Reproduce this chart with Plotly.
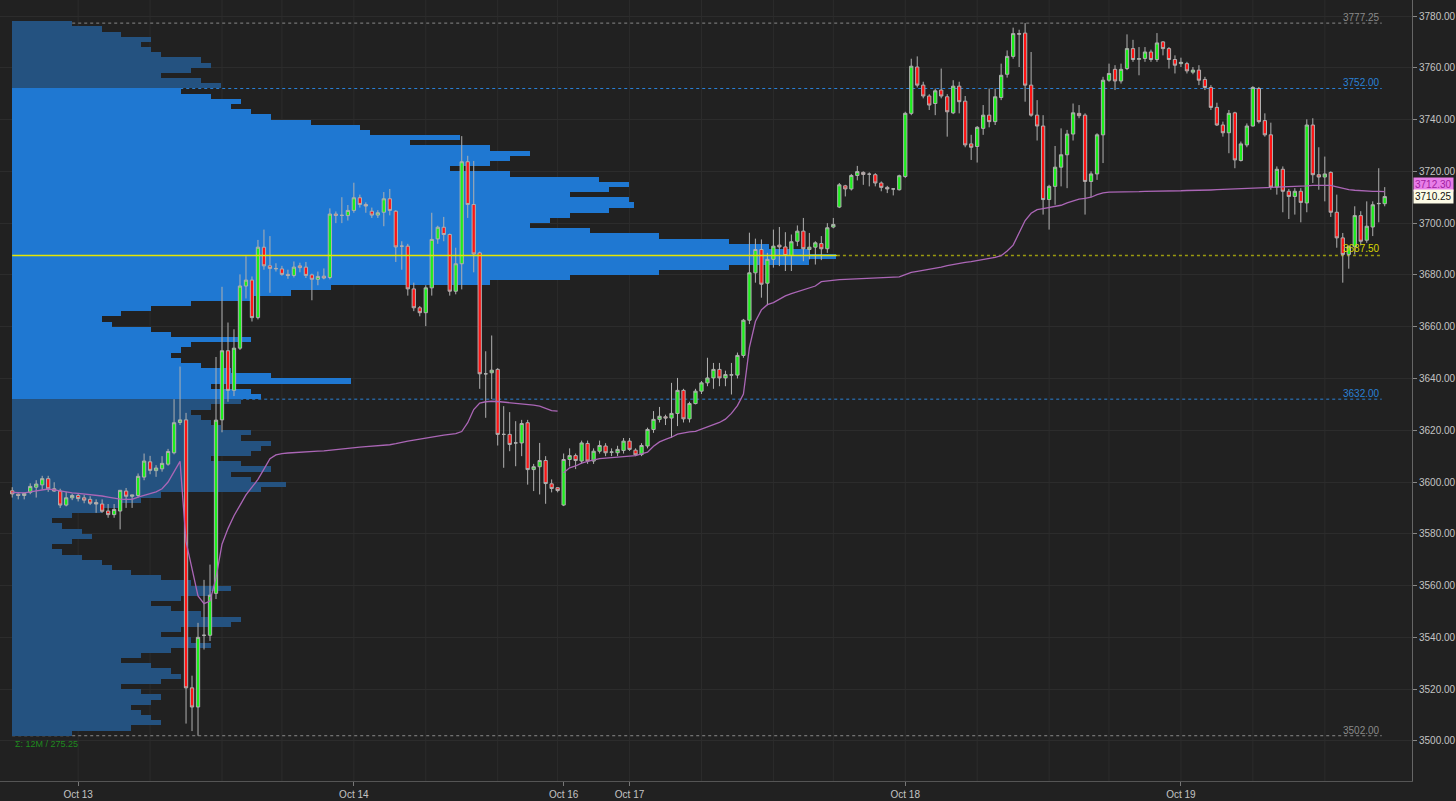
import plotly.graph_objects as go

# ---------------- data (30-min bars, ES futures) ----------------
opens = [
    3596.6,3595.3,3594.8,3596.0,3598.0,3598.9,3601.3,3597.4,3596.5,3591.1,
    3593.9,3594.8,3593.9,3593.3,3592.1,3591.5,3588.8,3587.4,3588.8,3596.5,
    3594.5,3594.8,3601.9,3607.8,3604.4,3605.1,3606.9,3611.3,3623.0,3624.0,
    3520.5,3513.1,3540.8,3540.8,3557.0,3624.0,3650.7,3635.4,3651.7,3675.7,
    3678.0,3663.5,3690.7,3683.5,3682.5,3682.3,3680.2,3679.8,3683.5,3683.0,
    3680.0,3678.3,3679.5,3679.0,3703.5,3703.0,3702.9,3704.9,3709.8,3707.2,
    3704.6,3703.1,3704.2,3709.4,3704.6,3691.1,3691.1,3674.6,3667.3,3665.4,
    3675.0,3693.9,3698.4,3695.6,3673.7,3684.3,3723.7,3707.2,3688.5,3641.8,
    3642.2,3643.5,3618.4,3618.4,3615.1,3615.1,3622.9,3604.8,3605.9,3608.3,
    3599.3,3597.8,3591.1,3608.7,3610.2,3608.1,3614.9,3608.1,3611.9,3613.9,
    3611.5,3611.3,3612.2,3615.8,3612.3,3610.6,3613.9,3620.3,3624.2,3625.2,
    3624.7,3626.5,3635.4,3624.4,3630.3,3635.1,3638.3,3640.2,3643.5,3640.2,
    3641.3,3641.3,3648.9,3662.5,3680.8,3689.8,3676.8,3686.0,3691.5,3690.8,
    3687.5,3693.0,3696.9,3689.8,3690.7,3692.1,3690.1,3698.5,3706.2,3714.4,
    3713.2,3718.4,3719.6,3718.9,3718.7,3715.5,3713.8,3713.2,3712.9,3718.0,
    3742.4,3760.3,3753.3,3749.1,3746.2,3751.4,3748.8,3742.6,3752.9,3747.1,
    3730.6,3729.6,3736.6,3741.7,3739.2,3748.5,3757.5,3764.4,3773.2,3773.4,
    3753.3,3741.7,3737.5,3709.1,3714.2,3721.6,3726.4,3734.4,3742.4,3741.7,
    3716.1,3719.0,3734.1,3755.2,3759.4,3754.9,3759.7,3767.4,3763.3,3763.6,
    3766.1,3763.2,3770.0,3767.4,3763.2,3761.6,3761.6,3758.3,3759.1,3755.5,
    3752.4,3744.7,3737.9,3734.9,3742.6,3724.2,3730.2,3737.5,3752.0,3739.6,
    3734.1,3713.9,3720.8,3712.3,3710.3,3712.3,3707.8,3737.9,3718.7,3717.8,
    3719.6,3704.2,3694.3,3687.9,3690.9,3702.9,3693.4,3698.5,3707.5,3707.5,
]
highs = [
    3598.0,3595.6,3596.0,3599.5,3600.7,3602.4,3602.4,3599.9,3597.4,3596.2,
    3595.5,3595.5,3595.0,3594.5,3593.3,3593.3,3591.5,3591.5,3596.9,3597.7,
    3595.0,3603.3,3611.0,3610.1,3606.5,3610.0,3612.8,3632.0,3644.6,3626.7,
    3525.2,3545.6,3562.2,3568.1,3648.3,3675.4,3661.6,3659.0,3680.2,3687.2,
    3679.4,3693.5,3697.5,3695.0,3684.5,3683.5,3682.0,3685.2,3684.7,3685.0,
    3680.5,3681.3,3682.5,3705.7,3704.5,3710.0,3707.0,3715.6,3711.0,3708.0,
    3706.0,3705.0,3712.0,3713.2,3705.0,3693.0,3692.0,3677.0,3668.0,3676.0,
    3704.0,3699.0,3702.4,3696.0,3690.5,3733.6,3726.0,3724.0,3689.0,3650.5,
    3656.6,3644.0,3629.3,3627.0,3623.5,3624.0,3624.0,3607.0,3615.1,3610.0,
    3601.0,3598.0,3611.0,3613.0,3611.0,3616.0,3616.0,3613.0,3616.0,3615.0,
    3613.0,3614.0,3617.0,3617.0,3613.0,3615.0,3621.0,3627.4,3629.0,3626.0,
    3638.3,3640.2,3636.0,3631.0,3636.0,3639.0,3648.0,3646.0,3646.0,3643.0,
    3646.0,3650.0,3663.0,3696.3,3694.0,3693.7,3688.5,3697.5,3698.5,3696.5,
    3695.6,3699.1,3702.0,3696.2,3693.0,3695.0,3700.0,3702.0,3715.5,3714.8,
    3719.0,3722.1,3720.0,3719.6,3719.3,3716.1,3714.4,3713.5,3718.7,3743.0,
    3763.5,3764.4,3754.6,3749.8,3752.0,3759.7,3749.8,3755.2,3754.6,3749.1,
    3734.1,3737.5,3745.6,3752.0,3752.0,3761.6,3766.7,3775.5,3774.7,3777.25,
    3766.1,3747.5,3741.7,3714.8,3729.8,3736.6,3736.0,3746.2,3745.6,3742.4,
    3720.0,3734.7,3756.5,3761.6,3761.0,3761.6,3772.9,3770.8,3768.0,3768.0,
    3767.0,3773.4,3770.3,3768.0,3764.8,3763.9,3762.3,3760.3,3761.0,3756.5,
    3753.3,3746.5,3739.2,3743.7,3743.0,3731.5,3738.5,3752.9,3752.6,3742.4,
    3738.8,3721.9,3721.9,3713.2,3713.5,3713.5,3740.1,3740.5,3729.3,3725.7,
    3720.0,3711.0,3696.2,3691.4,3706.5,3704.6,3708.4,3708.4,3721.2,3713.9,
]
lows = [
    3594.0,3593.3,3593.3,3595.3,3594.0,3597.0,3596.2,3596.2,3590.0,3590.6,
    3593.0,3592.5,3591.8,3591.1,3588.1,3588.1,3586.2,3586.2,3581.7,3590.0,
    3590.0,3594.0,3600.7,3603.0,3602.0,3604.0,3606.3,3610.7,3622.0,3506.7,
    3503.8,3502.0,3535.3,3538.6,3554.8,3619.2,3631.0,3633.2,3651.0,3670.9,
    3662.0,3662.8,3682.0,3673.1,3681.3,3679.7,3678.5,3679.0,3681.0,3678.8,
    3670.2,3676.0,3678.3,3678.3,3700.0,3700.0,3701.0,3704.0,3706.0,3704.0,
    3702.0,3702.0,3698.8,3703.0,3685.0,3682.0,3672.0,3666.0,3664.0,3660.2,
    3672.0,3692.0,3693.0,3672.0,3672.5,3674.4,3702.0,3681.0,3636.0,3624.8,
    3632.0,3614.1,3605.5,3611.9,3606.1,3610.0,3599.0,3596.5,3595.2,3591.6,
    3596.0,3596.0,3590.7,3606.0,3605.0,3607.0,3607.0,3607.0,3611.0,3610.0,
    3610.0,3610.0,3611.0,3612.0,3610.0,3610.0,3613.0,3619.0,3623.0,3622.0,
    3617.0,3621.6,3623.0,3623.0,3630.0,3634.0,3637.0,3636.0,3637.0,3637.0,
    3633.8,3640.0,3648.0,3661.0,3677.0,3671.2,3668.3,3682.8,3683.4,3681.5,
    3681.5,3691.1,3685.3,3686.0,3684.0,3685.7,3688.5,3698.0,3705.8,3710.3,
    3712.6,3716.5,3714.8,3714.2,3714.2,3712.3,3711.6,3710.7,3712.6,3717.4,
    3741.7,3752.4,3748.2,3743.7,3741.7,3748.2,3733.4,3742.1,3742.4,3729.3,
    3724.4,3723.4,3734.1,3737.0,3737.9,3747.5,3756.2,3763.5,3760.3,3746.9,
    3741.1,3731.9,3703.3,3697.5,3707.1,3714.2,3713.5,3731.9,3740.5,3703.3,
    3710.0,3716.7,3723.2,3754.6,3751.4,3753.9,3759.1,3762.3,3757.1,3762.3,
    3762.3,3762.3,3764.8,3759.7,3757.8,3760.3,3757.8,3757.5,3753.3,3751.4,
    3743.7,3737.5,3733.4,3727.0,3721.2,3723.8,3729.3,3737.3,3738.5,3733.4,
    3712.9,3711.0,3704.2,3701.6,3703.3,3700.3,3704.2,3715.5,3712.9,3708.4,
    3702.4,3690.5,3677.0,3682.4,3687.9,3691.4,3692.4,3695.0,3700.3,3706.5,
]
closes = [
    3595.4,3594.8,3595.6,3598.3,3599.2,3601.3,3597.4,3596.5,3591.1,3593.9,
    3594.8,3593.6,3593.0,3591.8,3591.5,3588.7,3587.4,3589.4,3596.8,3594.5,
    3595.0,3602.2,3608.1,3604.5,3605.4,3607.2,3611.8,3622.9,3624.0,3520.5,
    3513.1,3540.0,3540.8,3556.3,3623.9,3650.7,3635.4,3651.7,3675.7,3678.0,
    3663.5,3690.7,3683.5,3682.5,3682.4,3680.2,3679.8,3683.0,3682.8,3679.8,
    3678.3,3679.4,3678.8,3703.5,3703.0,3703.0,3704.9,3709.8,3707.2,3706.6,
    3703.1,3704.0,3709.4,3704.9,3690.8,3691.1,3674.6,3667.3,3665.4,3675.0,
    3693.7,3698.4,3695.6,3673.7,3684.3,3723.7,3707.2,3688.1,3641.8,3641.8,
    3643.2,3618.4,3618.4,3614.5,3615.1,3622.6,3604.8,3605.9,3608.3,3599.4,
    3597.5,3596.7,3608.7,3610.2,3608.3,3615.1,3608.1,3611.9,3614.1,3611.3,
    3611.6,3612.6,3615.8,3612.6,3610.5,3614.1,3620.3,3624.2,3625.4,3624.7,
    3626.5,3635.4,3624.4,3630.3,3635.1,3638.3,3640.2,3643.5,3640.2,3641.5,
    3641.4,3648.9,3662.5,3680.8,3689.8,3676.4,3686.0,3691.1,3690.8,3687.5,
    3692.8,3696.9,3690.1,3690.7,3692.4,3690.1,3698.2,3699.5,3714.8,3713.2,
    3718.4,3719.9,3718.8,3718.9,3715.5,3713.8,3713.2,3713.2,3718.3,3742.4,
    3760.6,3753.3,3749.1,3745.6,3751.1,3749.1,3743.0,3752.9,3746.9,3730.2,
    3729.3,3737.0,3741.7,3739.2,3748.8,3757.1,3764.4,3773.2,3773.0,3753.3,
    3741.7,3737.5,3709.1,3714.2,3721.6,3726.4,3734.4,3742.6,3741.5,3716.1,
    3719.0,3734.1,3755.2,3757.8,3754.9,3759.4,3767.4,3763.2,3763.5,3766.1,
    3763.2,3769.6,3767.4,3763.2,3761.0,3762.1,3758.8,3759.1,3755.2,3752.4,
    3744.7,3737.9,3734.9,3742.4,3724.4,3730.6,3737.5,3752.4,3739.2,3734.1,
    3713.9,3720.8,3712.3,3710.3,3712.3,3708.0,3737.9,3718.7,3717.8,3719.0,
    3704.2,3694.3,3687.9,3690.9,3702.9,3693.0,3698.8,3707.1,3707.6,3710.25,
]
bar_index = list(range(len(opens)))

# anchored VWAP: first segment (bars 0-91), second segment (bars 92-229)
vwap_a = [
    3596.0,3595.8,3595.8,3596.2,3596.6,3597.1,3597.3,3597.0,3596.6,3596.0,
    3595.8,3595.6,3595.4,3595.2,3594.9,3594.6,3594.2,3593.8,3593.4,3593.3,
    3593.3,3594.2,3595.0,3595.5,3596.2,3597.4,3600.0,3604.0,3608.0,3577.0,
    3566.0,3556.0,3553.0,3554.0,3563.0,3576.0,3582.0,3587.0,3591.0,3595.0,
    3598.0,3601.0,3605.0,3609.0,3610.5,3611.0,3611.2,3611.4,3611.5,3611.6,
    3611.7,3611.9,3612.0,3612.3,3612.6,3612.8,3613.0,3613.3,3613.5,3613.7,
    3613.9,3614.0,3614.1,3614.4,3614.8,3615.4,3615.8,3616.2,3616.6,3617.0,
    3617.5,3617.8,3618.1,3618.4,3618.7,3619.5,3622.9,3628.0,3630.5,3631.0,
    3631.2,3631.1,3630.9,3630.7,3630.4,3630.2,3630.0,3629.7,3629.3,3628.3,
    3627.6,3627.4,
]
vwap_b = [
    3603.6,3605.5,3606.2,3607.3,3608.0,3608.5,3609.0,3609.2,3609.4,3609.6,
    3609.8,3610.0,3610.2,3610.9,3611.5,3613.8,3615.5,3616.5,3617.3,3618.5,
    3619.1,3619.4,3619.6,3620.5,3621.5,3622.2,3623.0,3624.3,3626.5,3629.5,
    3634.0,3652.0,3662.0,3666.5,3668.5,3669.3,3670.6,3671.9,3672.8,3673.5,
    3674.2,3674.9,3675.7,3677.4,3677.7,3678.0,3678.2,3678.3,3678.4,3678.5,
    3678.6,3678.8,3678.9,3679.0,3679.0,3679.1,3679.2,3680.1,3681.0,3681.4,
    3681.8,3682.1,3682.4,3683.0,3683.6,3684.0,3684.6,3684.8,3685.1,3685.5,
    3685.8,3686.2,3686.8,3687.4,3689.2,3691.5,3696.0,3701.0,3703.8,3705.2,
    3705.6,3706.0,3706.5,3706.9,3707.8,3708.5,3709.3,3709.6,3710.0,3711.0,
    3711.7,3712.0,3712.0,3712.1,3712.1,3712.2,3712.2,3712.3,3712.3,3712.3,
    3712.4,3712.4,3712.5,3712.5,3712.6,3712.6,3712.7,3712.7,3712.8,3712.9,
    3713.0,3713.1,3713.2,3713.3,3713.3,3713.4,3713.5,3713.5,3713.6,3713.7,
    3713.8,3713.9,3714.0,3714.2,3714.4,3714.6,3714.6,3714.6,3714.6,3714.0,
    3713.4,3712.9,3712.7,3712.5,3712.4,3712.3,3712.3,3712.2,
]
vwap_a_index = bar_index[:len(vwap_a)]
vwap_b_index = bar_index[len(vwap_a):]

# volume profile, 2-point price bins from 3503 to 3777 (relative volume)
profile_price = list(range(3503, 3779, 2))
profile_vol = [
    60,120,150,140,130,120,140,150,130,110,
    150,170,160,140,110,130,160,200,180,150,
    170,220,230,190,160,140,170,200,220,180,
    150,120,100,90,70,50,40,60,80,70,
    50,40,60,90,110,130,150,250,275,240,
    220,260,230,200,240,250,260,230,240,210,
    200,190,180,200,230,250,240,200,340,260,
    220,190,170,160,170,180,240,160,140,100,
    90,110,140,180,240,280,320,480,560,650,
    720,800,828,800,760,720,650,580,520,540,
    560,600,625,620,560,600,620,590,500,440,
    480,500,520,480,400,450,360,350,300,260,
    240,220,230,200,170,210,190,150,180,200,
    190,150,140,130,140,110,90,60,
]

value_area_high = 3752.00
value_area_low = 3632.00
poc_price = 3687.50
profile_high = 3777.25
profile_low = 3502.00
last_price = 3710.25
vwap_last_label = "3712.30"

date_tick_pos = [11, 57, 92, 103, 149, 195]
date_tick_text = ["Oct 13", "Oct 14", "Oct 16", "Oct 17", "Oct 18", "Oct 19"]
time_grid_pos = [11, 23, 35, 45, 57, 69, 81, 91, 103, 115, 127, 137, 149,
                 161, 173, 183, 195, 207, 219]
price_ticks = list(range(3500, 3781, 20))

# ---------------- styling ----------------
BG = "#212121"
GRID = "#2c2c2c"
TXT = "#c4c4c4"
BLUE = "#2a80d6"
FONT = "Liberation Sans, Arial, sans-serif"

plot_w_px = 1456 - 38
profile_left_px = 12

fig = go.Figure()

# profile on the base x axis (drawn underneath)
bar_colors = ["#1f78d2" if value_area_low <= p <= value_area_high else "#245280"
              for p in profile_price]
fig.add_trace(go.Bar(
    x=profile_vol, y=profile_price, orientation="h", width=2,
    marker=dict(color=bar_colors, line=dict(width=0)),
    xaxis="x", yaxis="y", showlegend=False, hoverinfo="skip",
))

# price bars on the overlaying time axis (drawn on top)
fig.add_trace(go.Candlestick(
    x=bar_index, open=opens, high=highs, low=lows, close=closes,
    increasing=dict(fillcolor="#1cf01c", line=dict(color="#b0b0b0", width=1)),
    decreasing=dict(fillcolor="#ff1414", line=dict(color="#b0b0b0", width=1)),
    xaxis="x2", yaxis="y", showlegend=False,
))

for xs, ys in ((vwap_a_index, vwap_a), (vwap_b_index, vwap_b)):
    fig.add_trace(go.Scatter(
        x=xs, y=ys, mode="lines", line=dict(color="#ab66b6", width=1.3),
        xaxis="x2", yaxis="y", showlegend=False, hoverinfo="skip",
    ))

shapes = []
for g in time_grid_pos:
    shapes.append(dict(type="line", xref="x2", yref="paper", x0=g, x1=g, y0=0, y1=1,
                       line=dict(color=GRID, width=1), layer="below"))

x_start = bar_index[0]
x_end = bar_index[-1] - 0.5
poc_solid_end = 137.6
level_lines = [
    (profile_high, "#8a8a8a", "3777.25"),
    (value_area_high, BLUE, "3752.00"),
    (value_area_low, BLUE, "3632.00"),
    (profile_low, "#8a8a8a", "3502.00"),
]
annotations = []
for lvl, col, txt in level_lines:
    shapes.append(dict(type="line", xref="x2", yref="y", x0=x_start, x1=x_end, y0=lvl, y1=lvl,
                       line=dict(color=col, width=1, dash="dot"), layer="below"))
    annotations.append(dict(x=x_end, y=lvl, xref="x2", yref="y", text=txt, showarrow=False,
                            xanchor="right", yanchor="bottom", yshift=-2,
                            font=dict(color=col, size=10, family=FONT)))

shapes.append(dict(type="line", xref="x2", yref="y", x0=x_start, x1=poc_solid_end,
                   y0=poc_price, y1=poc_price, line=dict(color="#e6e600", width=1.5), layer="above"))
shapes.append(dict(type="line", xref="x2", yref="y", x0=poc_solid_end, x1=x_end,
                   y0=poc_price, y1=poc_price, line=dict(color="#9a9a10", width=1.5, dash="dot"),
                   layer="below"))
annotations.append(dict(x=x_end, y=poc_price, xref="x2", yref="y", text="3687.50", showarrow=False,
                        xanchor="right", yanchor="bottom", yshift=-1,
                        font=dict(color="#d8d800", size=10, family=FONT)))

annotations.append(dict(x=0, y=profile_low, xref="paper", yref="y", xshift=13,
                        text="Σ: 12M / 275.25", showarrow=False, xanchor="left", yanchor="top",
                        yshift=-1, font=dict(color="#1f8a1f", size=9, family=FONT)))

# right-side price tags (VWAP tag sits just above the last-price tag)
annotations.append(dict(x=1, y=3715.0, xref="paper", yref="y", text=vwap_last_label,
                        showarrow=False, xanchor="left", yanchor="middle", xshift=1,
                        bgcolor="#e87de8", borderpad=1,
                        font=dict(color="#a020a0", size=10, family=FONT)))
annotations.append(dict(x=1, y=last_price, xref="paper", yref="y", text=f"{last_price:.2f}",
                        showarrow=False, xanchor="left", yanchor="middle", xshift=1,
                        bgcolor="#fdfbe6", borderpad=1,
                        font=dict(color="#111111", size=10, family=FONT)))

fig.update_layout(
    width=1456, height=801,
    margin=dict(l=0, r=38, t=0, b=20),
    paper_bgcolor=BG, plot_bgcolor=BG,
    font=dict(family=FONT, color=TXT, size=10),
    shapes=shapes, annotations=annotations,
    showlegend=False, bargap=0, boxgap=0.22,
    xaxis=dict(
        visible=False, fixedrange=True,
        range=[-profile_left_px, plot_w_px - profile_left_px],
    ),
    xaxis2=dict(
        overlaying="x", anchor="y", side="bottom",
        range=[-2.04, 233.55], rangeslider=dict(visible=False),
        tickmode="array", tickvals=date_tick_pos, ticktext=date_tick_text,
        showgrid=False, zeroline=False, showline=True, linecolor="#555555", linewidth=1,
        ticks="outside", ticklen=4, tickcolor="#777777",
        tickfont=dict(color=TXT, size=10, family=FONT),
    ),
    yaxis=dict(
        side="right", range=[3484.52, 3786.18],
        tickmode="array", tickvals=price_ticks, tickformat=".2f",
        showgrid=True, gridcolor=GRID, gridwidth=1, zeroline=False,
        showline=True, linecolor="#666666", linewidth=1,
        ticks="outside", ticklen=4, tickcolor="#888888",
        tickfont=dict(color=TXT, size=10, family=FONT),
    ),
)

fig.write_html(
    "out.html",
    config={"displayModeBar": False},
    post_script="document.body.style.margin='0';document.body.style.overflow='hidden';",
)
